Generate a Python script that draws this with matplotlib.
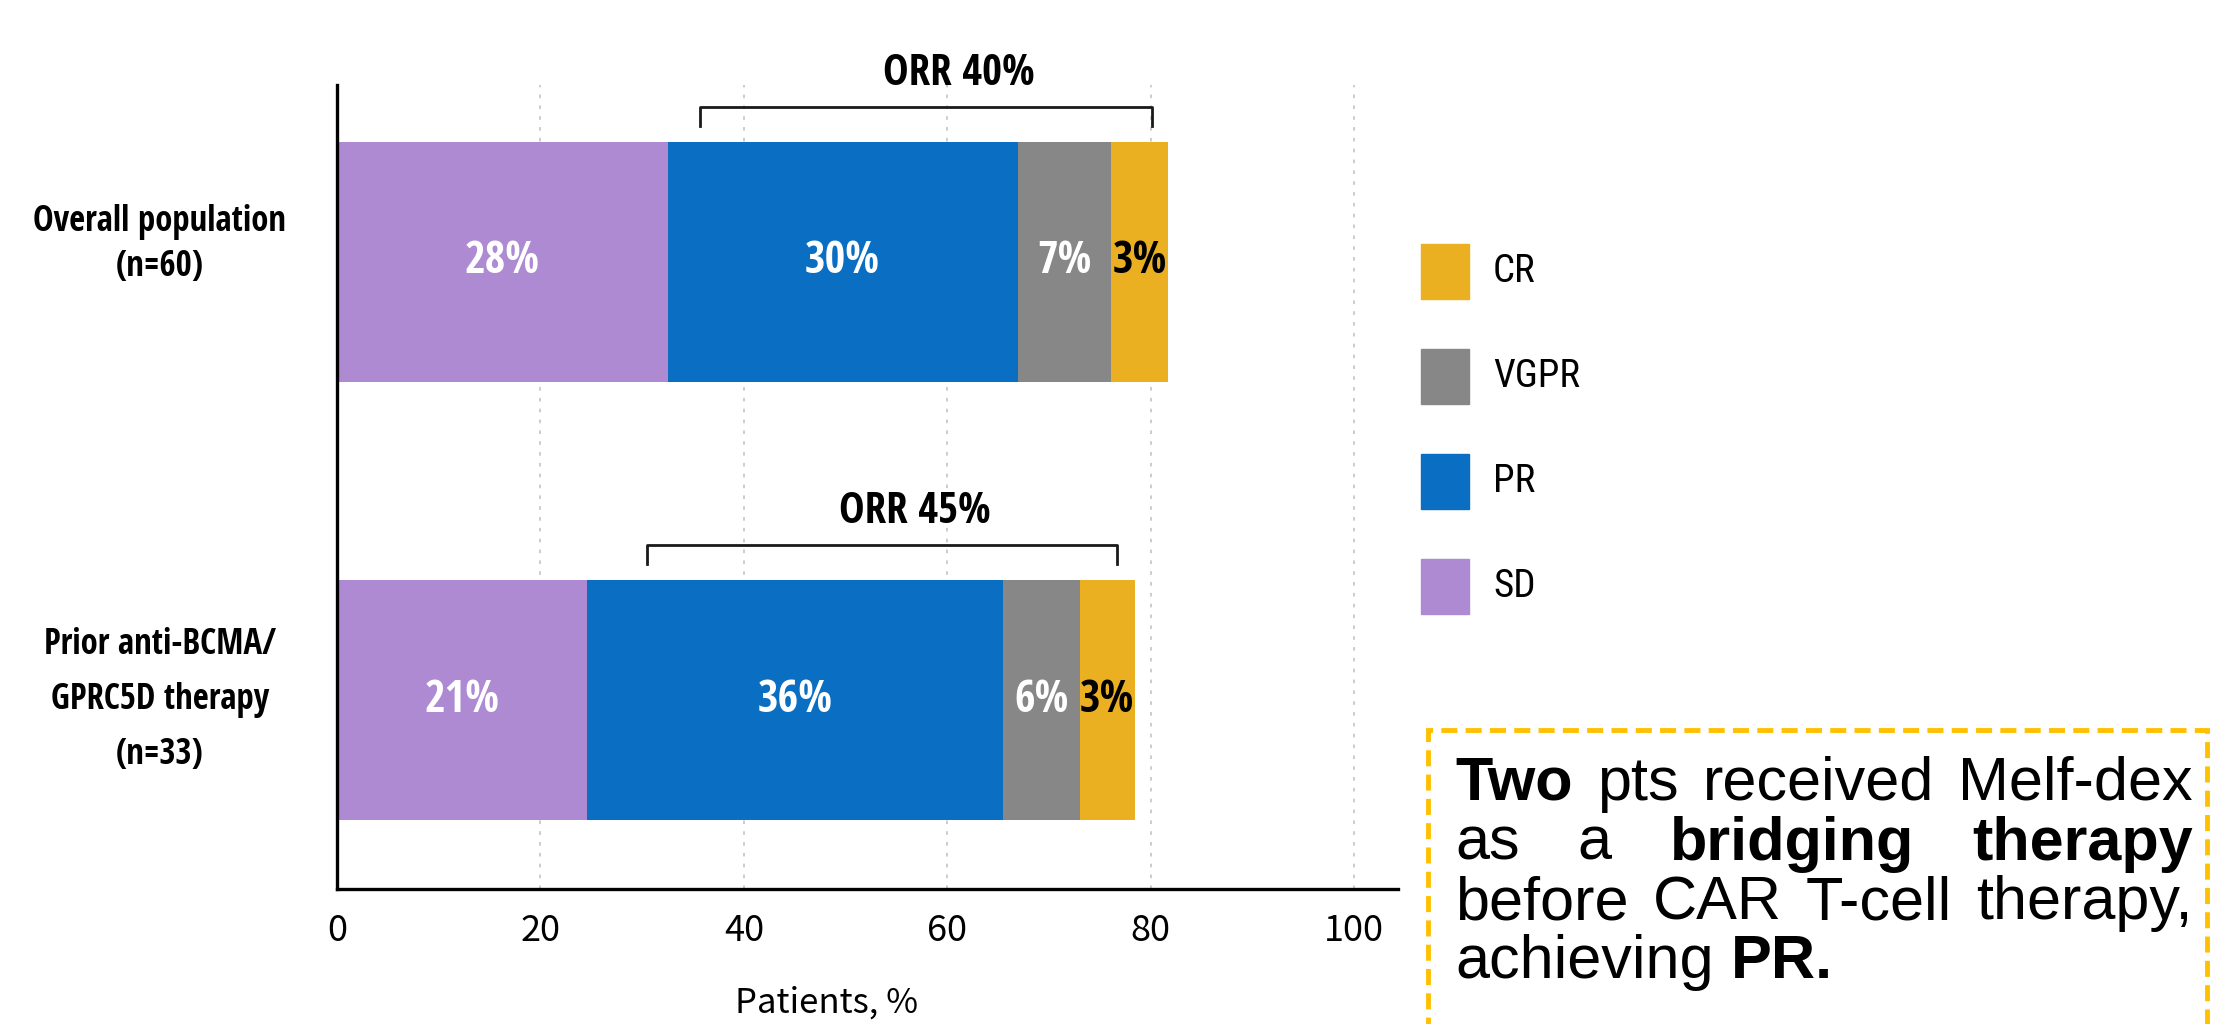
import matplotlib
matplotlib.use('Agg')
import matplotlib.pyplot as plt
from matplotlib.patches import Rectangle

# categories and response groups
categories = ['Overall population\n(n=60)', 'Prior anti-BCMA/\nGPRC5D therapy\n(n=33)']
responses = ['SD', 'PR', 'VGPR', 'CR']
colors = ['#AD8AD1', '#0A6FC3', '#878787', '#EBAF22']
label_colors = ['white', 'white', 'white', 'black']

# segment lengths as drawn on the x axis, and the percentages printed on them
overall_len = [32.5, 34.4, 9.2, 5.6]
prior_len = [24.6, 40.9, 7.5, 5.4]
overall_pct = [28, 30, 7, 3]
prior_pct = [21, 36, 6, 3]

# ORR brackets
orr_text = ['ORR 40%', 'ORR 45%']
orr_from = [35.7, 30.5]
orr_to = [80.1, 76.7]

xticks = [0, 20, 40, 60, 80, 100]

box_lines = [
    [('Two', True), ('pts', False), ('received', False), ('Melf-dex', False)],
    [('as', False), ('a', False), ('bridging', True), ('therapy', True)],
    [('before', False), ('CAR', False), ('T-cell', False), ('therapy,', False)],
    [('achieving', False), ('PR.', True)],
]

cond = ['Open Sans Condensed', 'Roboto Condensed', 'Noto Sans CJK KR', 'DejaVu Sans']
cond_light = ['Roboto Condensed', 'PT Sans Narrow', 'Noto Sans CJK KR', 'DejaVu Sans']
plain = ['Noto Sans CJK KR', 'DejaVu Sans']
arial = ['Liberation Sans', 'DejaVu Sans']

W, H = 2214, 1024
fig = plt.figure(figsize=(W / 100, H / 100), dpi=100)
ax = fig.add_axes([337 / W, 1 - 889 / H, (1398 - 337) / W, (889 - 85) / H])

pos = [1, 0]
bar_h = 0.55
lens = [overall_len, prior_len]
pcts = [overall_pct, prior_pct]

left = [0, 0]
for j, name in enumerate(responses):
    widths = [lens[0][j], lens[1][j]]
    ax.barh(pos, widths, left=left, height=bar_h, color=colors[j], zorder=2)
    for i in range(2):
        ax.text(left[i] + widths[i] / 2, pos[i], f'{pcts[i][j]}%', ha='center', va='center',
                color=label_colors[j], fontsize=32, fontweight='bold', family=cond, zorder=3)
    left = [left[0] + widths[0], left[1] + widths[1]]

# brackets with ORR
for i in range(2):
    y0 = pos[i] + 0.31
    y1 = pos[i] + 0.355
    ax.plot([orr_from[i], orr_from[i], orr_to[i], orr_to[i]], [y0, y1, y1, y0],
            color='#1a1a1a', lw=2, clip_on=False, zorder=3)
    ax.text((orr_from[i] + orr_to[i]) / 2 + 3.2, pos[i] + 0.43, orr_text[i], ha='center', va='center',
            fontsize=31, fontweight='bold', family=cond, clip_on=False)

ax.set_xlim(0, 104.3)
ax.set_ylim(-0.4315, 1.4041)
ax.set_xticks(xticks)
ax.grid(axis='x', linestyle=(0, (2, 4)), color='#c8c8c8', lw=1.3, zorder=0)
ax.set_axisbelow(True)

for s in ['top', 'right']:
    ax.spines[s].set_visible(False)
for s in ['left', 'bottom']:
    ax.spines[s].set_linewidth(2.4)
    ax.spines[s].set_color('black')

ax.tick_params(axis='x', length=0, pad=17, labelsize=26)
for t in ax.get_xticklabels():
    t.set_family(plain)

# category labels to the left of the axis
ax.set_yticks([])
label_nudge = [0.04, 0.0]
label_spacing = [1.35, 1.7]
for i, cat in enumerate(categories):
    ax.text(-0.167, pos[i] + label_nudge[i], cat, transform=ax.get_yaxis_transform(),
            ha='center', va='center', fontsize=25, fontweight='bold', family=cond,
            linespacing=label_spacing[i])

ax.set_xlabel('Patients, %', fontsize=25, family=plain)
ax.xaxis.label.set_va('center')
ax.xaxis.set_label_coords(0.461, -0.142)

# legend, drawn by hand to match the spacing
for k, j in enumerate(reversed(range(len(responses)))):
    y_top = 244 + 105 * k
    fig.add_artist(Rectangle((1421 / W, 1 - (y_top + 55) / H), 48 / W, 55 / H,
                             transform=fig.transFigure, color=colors[j]))
    fig.text(1493 / W, 1 - (y_top + 27.5) / H, responses[j], ha='left', va='center',
             fontsize=28, family=cond_light, fontweight='normal')

# dashed note box
fig.add_artist(Rectangle((1428 / W, -0.05), (2207 - 1428) / W, 1.05 - 730 / H,
                         transform=fig.transFigure, fill=False, ec='#FFC000', lw=3.5,
                         ls=(0, (3.3, 1.7))))

renderer = fig.canvas.get_renderer()
text_left, text_right = 1455, 2193
baselines = [800, 860, 919, 978]
for n, (words, yb) in enumerate(zip(box_lines, baselines)):
    objs = [fig.text(0, 1 - yb / H, w, fontsize=44, family=arial,
                     fontweight='bold' if b else 'normal', va='baseline')
            for w, b in words]
    widths = [o.get_window_extent(renderer).width for o in objs]
    if n < len(box_lines) - 1:
        gap = (text_right - text_left - sum(widths)) / (len(objs) - 1)
    else:
        gap = 0.278 * 44 * 100 / 72
    x = text_left
    for o, w in zip(objs, widths):
        o.set_x(x / W)
        x += w + gap

fig.savefig('out.png', dpi=100)
